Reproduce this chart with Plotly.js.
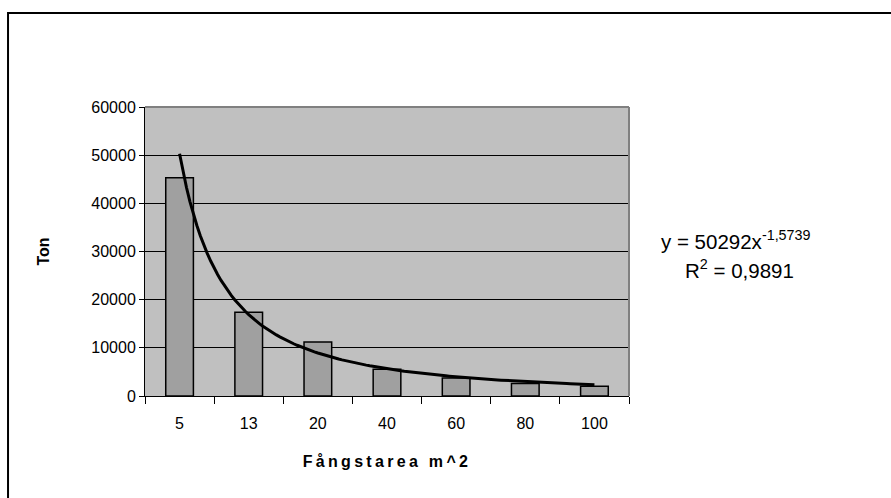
<!DOCTYPE html>
<html>
<head>
<meta charset="utf-8">
<script src="https://cdn.plot.ly/plotly-3.0.1.min.js"></script>
<style>
  html, body { margin: 0; padding: 0; background: #ffffff; }
  #chart { width: 891px; height: 498px; }
  .xtitle { letter-spacing: 3.3px; }
</style>
</head>
<body>
<div id="chart"></div>
<script>
// Category labels (Fångstarea m^2)
const categories = ['5', '13', '20', '40', '60', '80', '100'];
// Bar values (Ton)
const tonValues = [45300, 17400, 11200, 5540, 3740, 2570, 2010];
// Power trendline shown on the chart: y = 50292 x^-1.5739, R^2 = 0.9891
const trendCoef = 50292;
const trendExp = -1.5739;
const trendR2Text = '0,9891';
const yTicks = [0, 10000, 20000, 30000, 40000, 50000, 60000];

const catPos = categories.map((c, i) => i + 1);

// Sample the trendline (from the displayed equation) across the category positions
const trendX = [];
const trendY = [];
for (let i = 0; i <= 120; i++) {
  const x = 1 + i * 6 / 120;
  trendX.push(x);
  trendY.push(trendCoef * Math.pow(x, trendExp));
}

const fontFam = '"Liberation Sans", Arial, sans-serif';

const bars = {
  type: 'bar',
  x: catPos,
  y: tonValues,
  width: 0.4,
  marker: { color: '#A0A0A0', line: { color: '#000000', width: 1.5 } },
  xaxis: 'x',
  yaxis: 'y',
  hoverinfo: 'x+y'
};

const trend = {
  type: 'scatter',
  mode: 'lines',
  x: trendX,
  y: trendY,
  line: { color: '#000000', width: 3 },
  xaxis: 'x2',
  yaxis: 'y',
  hoverinfo: 'skip'
};

const boundaries = [];
for (let i = 0; i <= categories.length; i++) boundaries.push(i + 0.5);

const layout = {
  width: 891,
  height: 498,
  margin: { l: 145, r: 262, t: 107, b: 102 },
  paper_bgcolor: '#ffffff',
  plot_bgcolor: '#C0C0C0',
  showlegend: false,
  font: { family: fontFam, size: 16, color: '#000000' },
  xaxis: {
    type: 'linear',
    range: [0.5, 7.5],
    tickvals: catPos,
    ticktext: categories,
    ticks: '',
    showgrid: false,
    zeroline: false,
    showline: true,
    linecolor: '#000000',
    linewidth: 1,
    tickfont: { family: fontFam, size: 16, color: '#000000' },
    ticklabelstandoff: 13,
    title: { text: 'Fångstarea m^2', font: { family: fontFam, size: 16, color: '#000000', weight: 'bold' }, standoff: 24 }
  },
  xaxis2: {
    type: 'linear',
    overlaying: 'x',
    anchor: 'y',
    side: 'bottom',
    range: [0.5, 7.5],
    tickvals: boundaries,
    showticklabels: false,
    ticks: 'outside',
    ticklen: 7,
    tickcolor: '#000000',
    tickwidth: 1,
    showgrid: false,
    zeroline: false,
    showline: false
  },
  yaxis: {
    range: [0, 60000],
    tickvals: yTicks,
    ticktext: yTicks.map(String),
    ticks: 'outside',
    ticklen: 5,
    tickcolor: '#000000',
    showgrid: true,
    gridcolor: '#000000',
    gridwidth: 1,
    zeroline: false,
    showline: true,
    linecolor: '#000000',
    linewidth: 1,
    tickfont: { family: fontFam, size: 16, color: '#000000' },
    title: { text: 'Ton', font: { family: fontFam, size: 16, color: '#000000', weight: 'bold' }, standoff: 37 }
  },
  shapes: [
    // plot area top and right border (gray)
    { type: 'line', xref: 'paper', yref: 'paper', x0: 0, x1: 1, y0: 1, y1: 1, line: { color: '#808080', width: 2 }, layer: 'above' },
    { type: 'line', xref: 'paper', yref: 'paper', x0: 1, x1: 1, y0: 0, y1: 1, line: { color: '#808080', width: 2 }, layer: 'above' },
    // chart area outer border
    { type: 'rect', xref: 'paper', yref: 'paper', x0: -0.283, x1: 1.8, y0: -0.6, y1: 1.325, line: { color: '#000000', width: 2 }, fillcolor: 'rgba(0,0,0,0)', layer: 'below' }
  ],
  annotations: [
    { xref: 'paper', yref: 'paper', x: (736 - 145) / 484, y: (396 - 240) / 289, xanchor: 'center', yanchor: 'middle',
      text: 'y = ' + trendCoef + 'x<sup>' + String(trendExp).replace('.', ',') + '</sup>', showarrow: false,
      font: { family: fontFam, size: 20.5, color: '#000000' } },
    { xref: 'paper', yref: 'paper', x: (739 - 145) / 484, y: (396 - 269) / 289, xanchor: 'center', yanchor: 'middle',
      text: 'R<sup>2</sup> = ' + trendR2Text, showarrow: false,
      font: { family: fontFam, size: 20.5, color: '#000000' } }
  ]
};

Plotly.newPlot('chart', [bars, trend], layout, { displayModeBar: false, staticPlot: true });
</script>
</body>
</html>
